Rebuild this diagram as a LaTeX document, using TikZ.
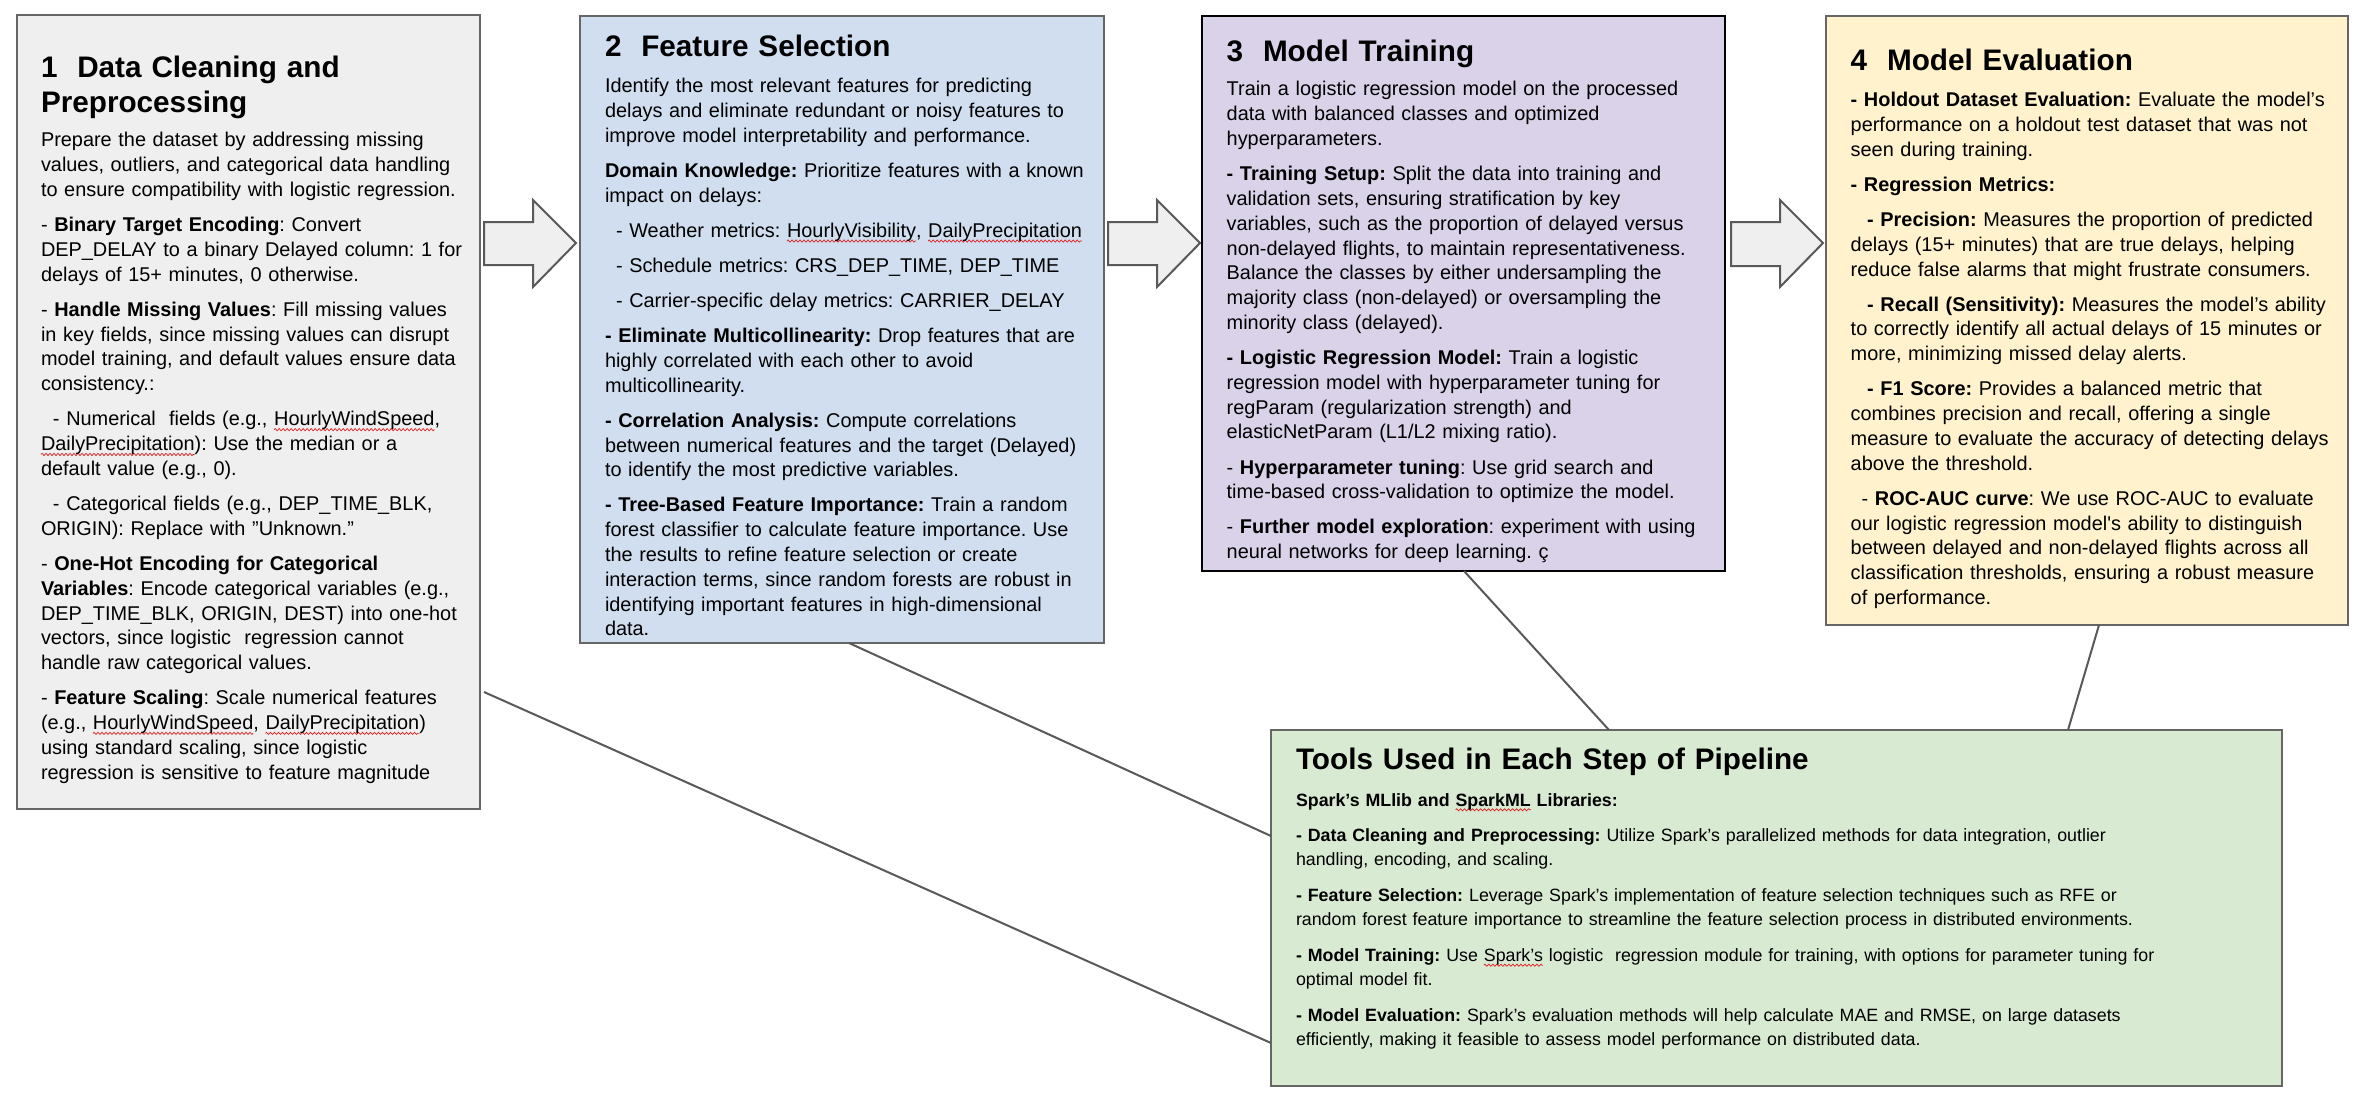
\documentclass[tikz,border=0pt]{standalone}
\usepackage{fontspec}
\setmainfont{Liberation Sans}
\usetikzlibrary{calc,decorations.pathmorphing}
\definecolor{bordergray}{HTML}{666666}
\definecolor{linegray}{HTML}{595959}
\definecolor{fillA}{HTML}{EFEFEF}
\definecolor{fillB}{HTML}{D0DEF0}
\definecolor{fillC}{HTML}{D9D2E9}
\definecolor{fillD}{HTML}{FFF2CC}
\definecolor{fillE}{HTML}{D9EAD3}
\definecolor{squig}{HTML}{E02020}
\frenchspacing
\newsavebox\sqbox
\newcommand\sq[1]{\sbox\sqbox{#1}\leavevmode\rlap{\tikz[overlay, x=1pt, y=1pt]\draw[squig, line width=0.7pt, decorate, decoration={zigzag, segment length=4pt, amplitude=1.1pt}] (0,-3.8) -- (\the\wd\sqbox,-3.8);}\usebox\sqbox}
\newcommand\bodyfont{\fontsize{19.9pt}{24.8pt}\selectfont\parindent=0pt\frenchspacing}
\newcommand\smallbodyfont{\fontsize{17.8pt}{24pt}\selectfont\parindent=0pt\frenchspacing}
\newcommand\titlefont{\fontsize{29.7pt}{35.4pt}\selectfont\bfseries\parindent=0pt\frenchspacing}
\newcommand\pb{\\[10.3pt]}
\newcommand\pbb{\\[11.8pt]}
\newcommand\ind[1]{\hspace*{#1}}
\tikzset{
  box/.style={rectangle, draw=bordergray, line width=2pt, inner sep=0pt, outer sep=0pt, anchor=north west},
  bodytext/.style={anchor=north west, inner sep=0pt, outer sep=0pt, text width=640pt, align=left, font=\bodyfont},
  smalltext/.style={anchor=north west, inner sep=0pt, outer sep=0pt, text width=1150pt, align=left, font=\smallbodyfont},
  titletext/.style={anchor=north west, inner sep=0pt, outer sep=0pt, text width=640pt, align=left, font=\titlefont},
  blockarrow/.style={draw=linegray, fill=fillA, line width=2pt, line join=miter},
  link/.style={draw=linegray, line width=2pt}
}
\begin{document}
\begin{tikzpicture}[x=1pt, y=-1pt]
\fill[white] (0,0) rectangle (2356,1100);
\useasboundingbox (0,0) rectangle (2356,1100);

% boxes
\node[box, fill=fillA, minimum width=463pt, minimum height=794pt] (b1) at (17,15) {};
\node[box, fill=fillB, minimum width=524pt, minimum height=627pt] (b2) at (580,16) {};
\node[box, fill=fillC, draw=black, line width=2.6pt, minimum width=523pt, minimum height=555pt] (b3) at (1202,16) {};
\node[box, fill=fillD, minimum width=522pt, minimum height=609pt] (b4) at (1826,16) {};
\node[box, fill=fillE, minimum width=1011pt, minimum height=356pt] (b5) at (1271,730) {};

% connectors
\draw[link] ($(b1.north east)+(4,677)$) -- ($(b5.north west)+(0,313)$);
\draw[link] ($(b2.south west)+(269,0)$) -- ($(b5.north west)+(0,106)$);
\draw[link] ($(b3.south west)+(262,0)$) -- ($(b5.north west)+(338,0)$);
\draw[link] ($(b4.south west)+(273,0)$) -- ($(b5.north west)+(797,0)$);

% block arrows
\draw[blockarrow] (484,222) -- (533,222) -- (533,200) -- (576,243) -- (533,287) -- (533,265) -- (484,265) -- cycle;
\draw[blockarrow] (1108,222) -- (1157,222) -- (1157,200) -- (1200,243) -- (1157,287) -- (1157,265) -- (1108,265) -- cycle;
\draw[blockarrow] (1731,222) -- (1780,222) -- (1780,200) -- (1823,243) -- (1780,287) -- (1780,266) -- (1731,266) -- cycle;

% box 1
\node[titletext] (h1) at (41,52.5) {\strut 1~~Data Cleaning and\\Preprocessing};
\node[bodytext] (t1) at (41,129.6) {\strut Prepare the dataset by addressing missing\\
values, outliers, and categorical data handling\\
to ensure compatibility with logistic regression.\pb
- \textbf{Binary Target Encoding}: Convert\\
DEP\_DELAY to a binary Delayed column: 1 for\\
delays of 15+ minutes, 0 otherwise.\pb
- \textbf{Handle Missing Values}: Fill missing values\\
in key fields, since missing values can disrupt\\
model training, and default values ensure data\\
consistency.:\pb
\ind{12pt}- Numerical~~fields (e.g., \sq{HourlyWindSpeed},\\
\sq{DailyPrecipitation}): Use the median or a\\
default value (e.g., 0).\pb
\ind{12pt}- Categorical fields (e.g., DEP\_TIME\_BLK,\\
ORIGIN): Replace with "Unknown."\pb
- \textbf{One-Hot Encoding for Categorical}\\
\textbf{Variables}: Encode categorical variables (e.g.,\\
DEP\_TIME\_BLK, ORIGIN, DEST) into one-hot\\
vectors, since logistic~~regression cannot\\
handle raw categorical values.\pb
- \textbf{Feature Scaling}: Scale numerical features\\
(e.g., \sq{HourlyWindSpeed}, \sq{DailyPrecipitation})\\
using standard scaling, since logistic\\
regression is sensitive to feature magnitude};

% box 2
\node[titletext] (h2) at (605,31.9) {\strut 2~~Feature Selection};
\node[bodytext] (t2) at (605,75.3) {\strut Identify the most relevant features for predicting\\
delays and eliminate redundant or noisy features to\\
improve model interpretability and performance.\pb
\textbf{Domain Knowledge:} Prioritize features with a known\\
impact on delays:\pb
\ind{11pt}- Weather metrics: \sq{HourlyVisibility}, \sq{DailyPrecipitation}\pb
\ind{11pt}- Schedule metrics: CRS\_DEP\_TIME, DEP\_TIME\pb
\ind{11pt}- Carrier-specific delay metrics: CARRIER\_DELAY\pb
\textbf{- Eliminate Multicollinearity:} Drop features that are\\
highly correlated with each other to avoid\\
multicollinearity.\pb
\textbf{- Correlation Analysis:} Compute correlations\\
between numerical features and the target (Delayed)\\
to identify the most predictive variables.\pb
\textbf{- Tree-Based Feature Importance:} Train a random\\
forest classifier to calculate feature importance. Use\\
the results to refine feature selection or create\\
interaction terms, since random forests are robust in\\
identifying important features in high-dimensional\\
data.};

% box 3
\node[titletext] (h3) at (1226.7,36.9) {\strut 3~~Model Training};
\node[bodytext] (t3) at (1226.7,78.6) {\strut Train a logistic regression model on the processed\\
data with balanced classes and optimized\\
hyperparameters.\pb
\textbf{- Training Setup:} Split the data into training and\\
validation sets, ensuring stratification by key\\
variables, such as the proportion of delayed versus\\
non-delayed flights, to maintain representativeness.\\
Balance the classes by either undersampling the\\
majority class (non-delayed) or oversampling the\\
minority class (delayed).\pb
\textbf{- Logistic Regression Model:} Train a logistic\\
regression model with hyperparameter tuning for\\
regParam (regularization strength) and\\
elasticNetParam (L1/L2 mixing ratio).\pb
- \textbf{Hyperparameter tuning}: Use grid search and\\
time-based cross-validation to optimize the model.\pb
- \textbf{Further model exploration}: experiment with using\\
neural networks for deep learning. ç};

% box 4
\node[titletext] (h4) at (1850.7,45.9) {\strut 4~~Model Evaluation};
\node[bodytext] (t4) at (1850.7,89.3) {\strut\textbf{- Holdout Dataset Evaluation:} Evaluate the model’s\\
performance on a holdout test dataset that was not\\
seen during training.\pb
\textbf{- Regression Metrics:}\pb
\ind{16.5pt}\textbf{- Precision:} Measures the proportion of predicted\\
delays (15+ minutes) that are true delays, helping\\
reduce false alarms that might frustrate consumers.\pb
\ind{16.5pt}\textbf{- Recall (Sensitivity):} Measures the model’s ability\\
to correctly identify all actual delays of 15 minutes or\\
more, minimizing missed delay alerts.\pb
\ind{16.5pt}\textbf{- F1 Score:} Provides a balanced metric that\\
combines precision and recall, offering a single\\
measure to evaluate the accuracy of detecting delays\\
above the threshold.\pb
\ind{11pt}- \textbf{ROC-AUC curve}: We use ROC-AUC to evaluate\\
our logistic regression model\textquotesingle s ability to distinguish\\
between delayed and non-delayed flights across all\\
classification thresholds, ensuring a robust measure\\
of performance.};

% bottom box
\node[titletext] (h5) at (1296,745.2) {\strut Tools Used in Each Step of Pipeline};
\node[smalltext] (t5) at (1296,789.2) {\strut\textbf{Spark’s MLlib and \sq{SparkML} Libraries:}\pbb
\textbf{- Data Cleaning and Preprocessing:} Utilize Spark’s parallelized methods for data integration, outlier\\
handling, encoding, and scaling.\pbb
\textbf{- Feature Selection:} Leverage Spark’s implementation of feature selection techniques such as RFE or\\
random forest feature importance to streamline the feature selection process in distributed environments.\pbb
\textbf{- Model Training:} Use \sq{Spark’s} logistic~~regression module for training, with options for parameter tuning for\\
optimal model fit.\pbb
\textbf{- Model Evaluation:} Spark’s evaluation methods will help calculate MAE and RMSE, on large datasets\\
efficiently, making it feasible to assess model performance on distributed data.};
\end{tikzpicture}
\end{document}
